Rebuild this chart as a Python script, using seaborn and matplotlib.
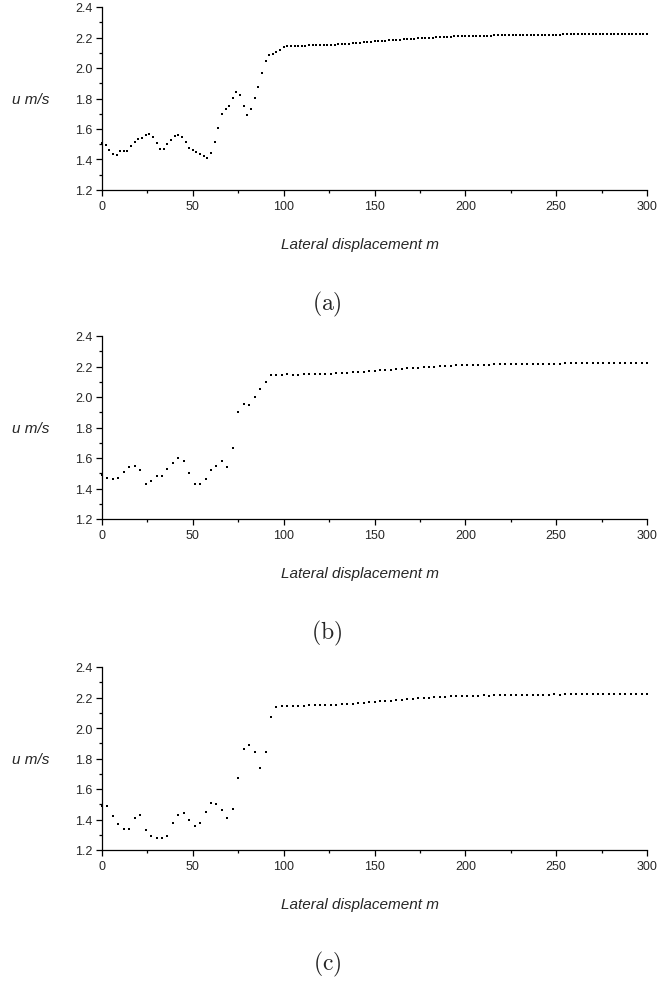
import matplotlib
matplotlib.use("Agg")
import matplotlib.pyplot as plt
from matplotlib.ticker import MultipleLocator
import numpy as np
import seaborn as sns

# ---------------------------------------------------------------------------
# Data: velocity u (m/s) vs lateral displacement (m), three cases
# ---------------------------------------------------------------------------
x_a = np.arange(0, 301, 2)
u_a_low = [1.507, 1.494, 1.464, 1.435, 1.431, 1.453, 1.457, 1.459, 1.488, 1.518,
           1.532, 1.538, 1.558, 1.564, 1.549, 1.510, 1.466, 1.472, 1.503, 1.525,
           1.554, 1.560, 1.545, 1.512, 1.477, 1.461, 1.450, 1.435, 1.420, 1.413,
           1.442, 1.512, 1.608, 1.696, 1.729, 1.753, 1.806, 1.843, 1.825, 1.751,
           1.694, 1.729, 1.804, 1.876, 1.968, 2.049, 2.082, 2.095, 2.108, 2.117]
u_a_flat = [2.135, 2.143, 2.143, 2.145, 2.146, 2.146, 2.147, 2.148, 2.148, 2.149,
            2.150, 2.151, 2.152, 2.152, 2.154, 2.156, 2.158, 2.159, 2.160, 2.162,
            2.164, 2.166, 2.168, 2.170, 2.173, 2.176, 2.178, 2.179, 2.180, 2.182,
            2.184, 2.185, 2.186, 2.188, 2.190, 2.192, 2.193, 2.195, 2.197, 2.198,
            2.199, 2.200, 2.201, 2.203, 2.204, 2.205, 2.206, 2.207, 2.208, 2.209,
            2.210, 2.210, 2.211, 2.211, 2.212, 2.212, 2.213, 2.213, 2.214, 2.214,
            2.215, 2.215, 2.216, 2.216, 2.216, 2.217, 2.217, 2.217, 2.218, 2.218,
            2.218, 2.218, 2.219, 2.219, 2.219, 2.219, 2.219, 2.220, 2.220, 2.220,
            2.220, 2.220, 2.221, 2.221, 2.221, 2.221, 2.221, 2.221, 2.222, 2.222,
            2.222, 2.222, 2.222, 2.222, 2.222, 2.223, 2.223, 2.223, 2.223, 2.223,
            2.223]

x_b = np.arange(0, 301, 3)
u_b_low = [1.49, 1.47, 1.46, 1.47, 1.51, 1.54, 1.55, 1.52, 1.43, 1.45,
           1.48, 1.48, 1.53, 1.57, 1.60, 1.58, 1.50, 1.43, 1.43, 1.46,
           1.52, 1.55, 1.58, 1.54, 1.665, 1.90, 1.955, 1.946, 2.00, 2.051,
           2.097, 2.141]
u_b_flat = [2.143, 2.146, 2.148, 2.146, 2.147, 2.148, 2.149, 2.150, 2.151, 2.152,
            2.153, 2.155, 2.157, 2.159, 2.161, 2.163, 2.166, 2.169, 2.172, 2.175,
            2.178, 2.180, 2.182, 2.185, 2.187, 2.190, 2.192, 2.195, 2.197, 2.199,
            2.201, 2.203, 2.205, 2.207, 2.208, 2.209, 2.210, 2.211, 2.212, 2.213,
            2.214, 2.215, 2.215, 2.216, 2.216, 2.217, 2.217, 2.218, 2.218, 2.218,
            2.219, 2.219, 2.219, 2.220, 2.220, 2.220, 2.220, 2.221, 2.221, 2.221,
            2.221, 2.222, 2.222, 2.222, 2.222, 2.222, 2.223, 2.223, 2.223]

x_c = np.arange(0, 301, 3)
u_c_low = [1.49, 1.49, 1.42, 1.37, 1.34, 1.34, 1.41, 1.43, 1.33, 1.29,
           1.28, 1.28, 1.29, 1.38, 1.43, 1.44, 1.40, 1.36, 1.38, 1.45,
           1.51, 1.50, 1.46, 1.41, 1.47, 1.67, 1.86, 1.89, 1.84, 1.74,
           1.84, 2.07]
u_c_flat = [2.135, 2.142, 2.144, 2.145, 2.146, 2.147, 2.148, 2.149, 2.150, 2.151,
            2.152, 2.154, 2.156, 2.158, 2.160, 2.163, 2.166, 2.169, 2.172, 2.174,
            2.176, 2.179, 2.182, 2.185, 2.188, 2.191, 2.194, 2.197, 2.199, 2.201,
            2.203, 2.205, 2.207, 2.209, 2.211, 2.209, 2.213, 2.211, 2.214, 2.212,
            2.215, 2.216, 2.214, 2.217, 2.216, 2.218, 2.217, 2.218, 2.219, 2.218,
            2.219, 2.220, 2.219, 2.220, 2.221, 2.220, 2.221, 2.221, 2.222, 2.221,
            2.222, 2.222, 2.223, 2.222, 2.223, 2.223, 2.223, 2.222, 2.222]

panels = [
    (x_a, u_a_low + u_a_flat, "(a)", 8),
    (x_b, u_b_low + u_b_flat, "(b)", 337),
    (x_c, u_c_low + u_c_flat, "(c)", 668),
]

# ---------------------------------------------------------------------------
# Styling
# ---------------------------------------------------------------------------
sns.set_style("ticks")
plt.rcParams["font.family"] = ["Liberation Sans", "DejaVu Sans"]
plt.rcParams["mathtext.fontset"] = "cm"

W, H = 659, 987
fig = plt.figure(figsize=(W / 100, H / 100), dpi=100)

AX_LEFT, AX_RIGHT, AX_H = 102, 647, 183

for x, u, tag, top in panels:
    ax = fig.add_axes([AX_LEFT / W, (H - top - AX_H) / H,
                       (AX_RIGHT - AX_LEFT) / W, AX_H / H])
    sns.scatterplot(x=x, y=u, ax=ax, marker="s", s=3.2, color="black",
                    linewidth=0, clip_on=False, zorder=3)
    ax.set_xlim(0, 300)
    ax.set_ylim(1.2, 2.4)
    ax.xaxis.set_major_locator(MultipleLocator(50))
    ax.xaxis.set_minor_locator(MultipleLocator(25))
    ax.yaxis.set_major_locator(MultipleLocator(0.2))
    ax.yaxis.set_minor_locator(MultipleLocator(0.1))
    ax.yaxis.set_major_formatter(plt.FormatStrFormatter("%.1f"))
    for side in ("top", "right"):
        ax.spines[side].set_visible(False)
    for side in ("left", "bottom"):
        ax.spines[side].set_linewidth(0.9)
        ax.spines[side].set_color("black")
    ax.tick_params(which="major", direction="out", length=4, width=0.9,
                   labelsize=9, color="black", pad=3)
    ax.tick_params(which="minor", direction="out", length=2.5, width=0.9,
                   color="black")
    ax.set_xlabel("")
    ax.set_ylabel("")

    fig.text(31 / W, 1 - (top + 92) / H, "u m/s", ha="center", va="center",
             fontsize=11, style="italic")
    fig.text(360 / W, 1 - (top + 237) / H, "Lateral displacement m",
             ha="center", va="center", fontsize=11, style="italic")
    fig.text(327 / W, 1 - (top + 296) / H, r"$\mathrm{" + tag + "}$",
             ha="center", va="center", fontsize=17)

fig.savefig("out.png", dpi=100)
plt.close(fig)
